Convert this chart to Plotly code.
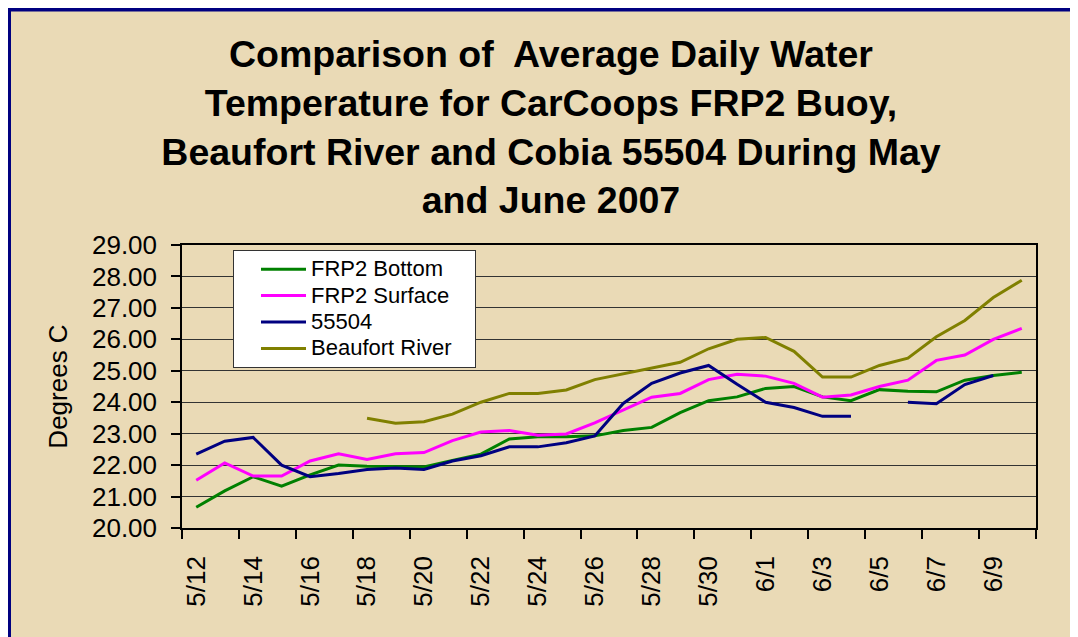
import plotly.graph_objects as go

# ---- data ----
dates = ["5/12", "5/13", "5/14", "5/15", "5/16", "5/17", "5/18", "5/19", "5/20", "5/21",
         "5/22", "5/23", "5/24", "5/25", "5/26", "5/27", "5/28", "5/29", "5/30", "5/31",
         "6/1", "6/2", "6/3", "6/4", "6/5", "6/6", "6/7", "6/8", "6/9", "6/10"]

frp2_bottom = [20.66, 21.18, 21.63, 21.33, 21.69, 22.00, 21.96, 21.94, 21.94, 22.15,
               22.35, 22.83, 22.90, 22.90, 22.93, 23.10, 23.20, 23.67, 24.05, 24.17,
               24.44, 24.50, 24.17, 24.05, 24.40, 24.35, 24.33, 24.70, 24.85, 24.95]

frp2_surface = [21.52, 22.07, 21.65, 21.65, 22.13, 22.36, 22.18, 22.36, 22.40, 22.78,
                23.05, 23.10, 22.95, 22.99, 23.34, 23.76, 24.16, 24.28, 24.72, 24.89,
                24.83, 24.60, 24.16, 24.23, 24.50, 24.70, 25.33, 25.50, 26.00, 26.35]

cobia_55504 = [22.35, 22.76, 22.88, 22.00, 21.63, 21.73, 21.86, 21.91, 21.86, 22.13,
               22.30, 22.58, 22.58, 22.71, 22.93, 23.96, 24.60, 24.93, 25.17, 24.57,
               24.00, 23.83, 23.55, 23.55, None, 24.00, 23.95, 24.56, 24.85, None]

beaufort_river = [None, None, None, None, None, None, 23.49, 23.33, 23.38, 23.62,
                  24.00, 24.28, 24.28, 24.39, 24.72, 24.90, 25.10, 25.27, 25.70, 26.00,
                  26.06, 25.62, 24.80, 24.80, 25.17, 25.40, 26.08, 26.60, 27.33, 27.88]

y_ticks = [20, 21, 22, 23, 24, 25, 26, 27, 28, 29]

series_names = ["FRP2 Bottom", "FRP2 Surface", "55504", "Beaufort River"]
series_values = [frp2_bottom, frp2_surface, cobia_55504, beaufort_river]
series_colors = ["#008000", "#FF00FF", "#000080", "#808000"]

# ---- layout geometry (pixels, figure coordinates; page adds an 8px body margin) ----
W, H = 1070, 629
ML, MR, MT, MB = 174, 42, 237, 109
pw = W - ML - MR
ph = H - MT - MB

x_idx = list(range(len(dates)))
label_pos = x_idx[::2]
label_txt = dates[::2]
tick_bounds = [i - 0.5 for i in range(0, len(dates) + 1, 2)]

FONT = "Arial, Liberation Sans, sans-serif"

fig = go.Figure()
for name, vals, col in zip(series_names, series_values, series_colors):
    fig.add_trace(go.Scatter(
        x=x_idx, y=vals, mode="lines",
        name='<span style="font-size:22px">' + name + '&nbsp;&nbsp;&nbsp;</span>',
        line=dict(color=col, width=3),
        connectgaps=False,
    ))

# outer frame: beige panel, navy border only on top and left (the rest runs off the page)
fx0, fx1 = (1 - ML) / pw, (W + 60 - ML) / pw
fy0, fy1 = -(MB + 60) / ph, (H - MB - 1.5) / ph
fig.add_shape(
    type="rect", xref="paper", yref="paper", layer="below",
    x0=fx0, x1=fx1, y0=fy0, y1=fy1,
    fillcolor="#EADAB6", line=dict(width=0),
)
fig.add_shape(
    type="path", xref="paper", yref="paper", layer="below",
    path=f"M {fx0},{fy0} L {fx0},{fy1} L {fx1},{fy1}",
    line=dict(color="#000080", width=4),
)

fig.update_layout(
    width=W, height=H,
    margin=dict(l=ML, r=MR, t=MT, b=MB),
    paper_bgcolor="white",
    plot_bgcolor="#CCFFFF",
    font=dict(family=FONT, color="black"),
    title=dict(
        text="Comparison of&nbsp; Average Daily Water<br>Temperature for CarCoops FRP2 Buoy,<br>"
             "Beaufort River and Cobia 55504 During May<br>and June 2007",
        font=dict(family=FONT, size=37.5, color="black", weight="bold"),
        x=543 / W, xanchor="center", xref="container",
        y=1 - 59 / H, yanchor="top", yref="container",
    ),
    showlegend=True,
    legend=dict(
        x=(225 - ML) / pw, y=(H - MB - 242) / ph, xanchor="left", yanchor="top",
        bgcolor="white", bordercolor="#333333", borderwidth=1,
        font=dict(family=FONT, size=18, color="black"),
        tracegroupgap=0, indentation=22, itemwidth=45,
    ),
    xaxis=dict(
        range=[-0.5, len(dates) - 0.5],
        tickmode="array", tickvals=label_pos, ticktext=label_txt,
        tickangle=-90, ticks="", ticklabelstandoff=16,
        tickfont=dict(family=FONT, size=26, color="black"),
        showgrid=False, zeroline=False,
        showline=True, linecolor="black", linewidth=1.5, mirror=True,
        minor=dict(tickmode="array", tickvals=tick_bounds, ticks="outside",
                   ticklen=9, tickwidth=1.5, tickcolor="black", showgrid=False),
    ),
    yaxis=dict(
        range=[y_ticks[0], y_ticks[-1]],
        tickmode="array", tickvals=y_ticks, tickformat=".2f",
        ticks="outside", ticklen=9, tickwidth=1.5, tickcolor="black",
        ticklabelstandoff=9,
        tickfont=dict(family=FONT, size=26, color="black"),
        showgrid=True, gridcolor="#333333", gridwidth=1,
        zeroline=False,
        showline=True, linecolor="black", linewidth=1.5, mirror=True,
        title=dict(text="Degrees C", font=dict(family=FONT, size=26, color="black"), standoff=17),
    ),
)

fig.write_html("out.html")
